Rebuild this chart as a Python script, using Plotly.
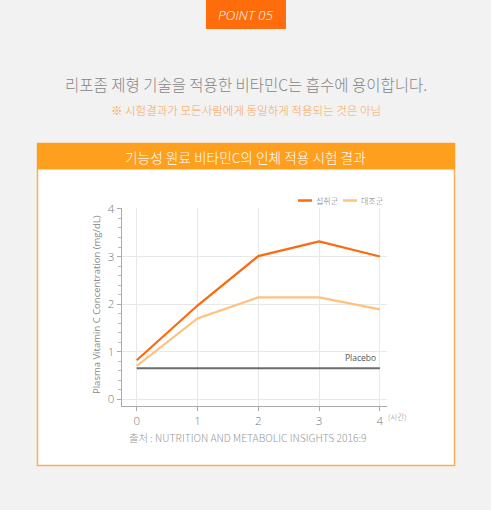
import plotly.graph_objects as go

W, H = 491, 510

hours = [0, 1, 2, 3, 4]
intake = [0.82, 1.97, 3.01, 3.32, 3.0]
control = [0.70, 1.70, 2.14, 2.14, 1.89]
placebo = [0.65, 0.65, 0.65, 0.65, 0.65]
series_names = ["섭취군", "대조군"]
x_ticks = [0, 1, 2, 3, 4]
y_ticks = [0, 1, 2, 3, 4]

KR = "Noto Sans CJK KR, Open Sans, sans-serif"
OS = "Open Sans, sans-serif"
C_INTAKE = "#fd6a0e"
C_CONTROL = "#ffc27e"
C_PLACEBO = "#6b6b6b"


def px(x):
    return x / W


def py(y):
    return 1 - y / H


fig = go.Figure()
fig.add_trace(go.Scatter(x=hours, y=intake, mode="lines", name=series_names[0],
                         line=dict(color=C_INTAKE, width=2.2), showlegend=False))
fig.add_trace(go.Scatter(x=hours, y=control, mode="lines", name=series_names[1],
                         line=dict(color=C_CONTROL, width=2.2), showlegend=False))
fig.add_trace(go.Scatter(x=hours, y=placebo, mode="lines", name="Placebo",
                         line=dict(color=C_PLACEBO, width=2), showlegend=False))

shapes = [
    dict(type="rect", xref="paper", yref="paper", x0=px(206), x1=px(286), y0=py(29), y1=py(0),
         fillcolor="#ff6c0c", line=dict(width=0), layer="below"),
    dict(type="rect", xref="paper", yref="paper", x0=px(37.5), x1=px(454.5), y0=py(465.5), y1=py(143.5),
         fillcolor="white", line=dict(color="#ffad52", width=1.5), layer="below"),
    dict(type="rect", xref="paper", yref="paper", x0=px(37), x1=px(455), y0=py(169.5), y1=py(143),
         fillcolor="#fe9f1d", line=dict(width=0), layer="below"),
    dict(type="line", xref="paper", yref="paper", x0=px(298), x1=px(312), y0=py(200.5), y1=py(200.5),
         line=dict(color=C_INTAKE, width=2.5)),
    dict(type="line", xref="paper", yref="paper", x0=px(343), x1=px(357), y0=py(200.5), y1=py(200.5),
         line=dict(color=C_CONTROL, width=2.5)),
]

annotations = [
    dict(text="<i>POINT 05</i>", x=px(246), y=py(14.5), xref="paper", yref="paper", showarrow=False,
         font=dict(family=OS, size=13.5, color="white", weight=300), xanchor="center", yanchor="middle"),
    dict(text="리포좀 제형 기술을 적용한 비타민C는 흡수에 용이합니다.", x=px(246), y=py(84), xref="paper", yref="paper",
         showarrow=False, font=dict(family=KR, size=15.5, color="#858585", weight=300),
         xanchor="center", yanchor="middle"),
    dict(text="※ 시험결과가 모든사람에게 동일하게 적용되는 것은 아님", x=px(246), y=py(110), xref="paper", yref="paper",
         showarrow=False, font=dict(family=KR, size=11.5, color="#f7a559", weight=300),
         xanchor="center", yanchor="middle"),
    dict(text="기능성 원료 비타민C의 인체 적용 시험 결과", x=px(246), y=py(157), xref="paper", yref="paper",
         showarrow=False, font=dict(family=KR, size=13.7, color="white", weight=300),
         xanchor="center", yanchor="middle"),
    dict(text=series_names[0], x=px(314), y=py(200.5), xref="paper", yref="paper", showarrow=False,
         font=dict(family=KR, size=8, color="#777", weight=300), xanchor="left", yanchor="middle"),
    dict(text=series_names[1], x=px(359), y=py(200.5), xref="paper", yref="paper", showarrow=False,
         font=dict(family=KR, size=8, color="#777", weight=300), xanchor="left", yanchor="middle"),
    dict(text="Placebo", x=3.97, y=placebo[-1], xref="x", yref="y", showarrow=False, yshift=3,
         font=dict(family=OS, size=8.5, color="#555"), xanchor="right", yanchor="bottom"),
    dict(text="(시간)", x=px(386), y=py(416), xref="paper", yref="paper", showarrow=False,
         font=dict(family=KR, size=7.5, color="#888", weight=300), xanchor="left", yanchor="middle"),
    dict(text="Plasma Vitamin C Concentration (mg/dL)", x=px(96), y=py(305), xref="paper", yref="paper",
         showarrow=False, textangle=-90, font=dict(family=OS, size=9.5, color="#888"),
         xanchor="center", yanchor="middle"),
    dict(text="출처 : NUTRITION AND METABOLIC INSIGHTS 2016:9", x=px(248), y=py(437), xref="paper", yref="paper",
         showarrow=False, font=dict(family=KR, size=10.3, color="#999", weight=300),
         xanchor="center", yanchor="middle"),
]

fig.update_layout(
    width=W, height=H,
    margin=dict(l=0, r=0, t=0, b=0, pad=0, autoexpand=False),
    paper_bgcolor="#f2f2f2",
    plot_bgcolor="white",
    showlegend=False,
    shapes=shapes,
    annotations=annotations,
    xaxis=dict(domain=[px(121.7), px(387)], range=[-0.247, 4.117], tickvals=x_ticks,
               ticktext=[str(v) for v in x_ticks], automargin=False,
               showgrid=True, gridcolor="#e8e8e8", gridwidth=1, zeroline=False,
               showline=True, linecolor="#aaa", linewidth=1,
               ticks="outside", ticklen=4, tickcolor="#aaa",
               tickfont=dict(family=OS, size=11.5, color="#777", weight=300)),
    yaxis=dict(domain=[py(406), py(208)], range=[-0.141, 4.02], tickvals=y_ticks, automargin=False,
               showgrid=True, gridcolor="#e8e8e8", gridwidth=1, zeroline=False,
               showline=True, linecolor="#aaa", linewidth=1,
               ticks="outside", ticklen=4, tickcolor="#aaa",
               minor=dict(dtick=0.2, tick0=0, ticks="outside", ticklen=3, tickcolor="#bbb", showgrid=False),
               tickfont=dict(family=OS, size=11.5, color="#777", weight=300)),
)

fig.write_html(
    "out.html",
    config={"displayModeBar": False},
    post_script="document.body.style.margin='0';document.body.style.padding='0';"
                "document.body.style.overflow='hidden';document.documentElement.style.overflow='hidden';",
)
